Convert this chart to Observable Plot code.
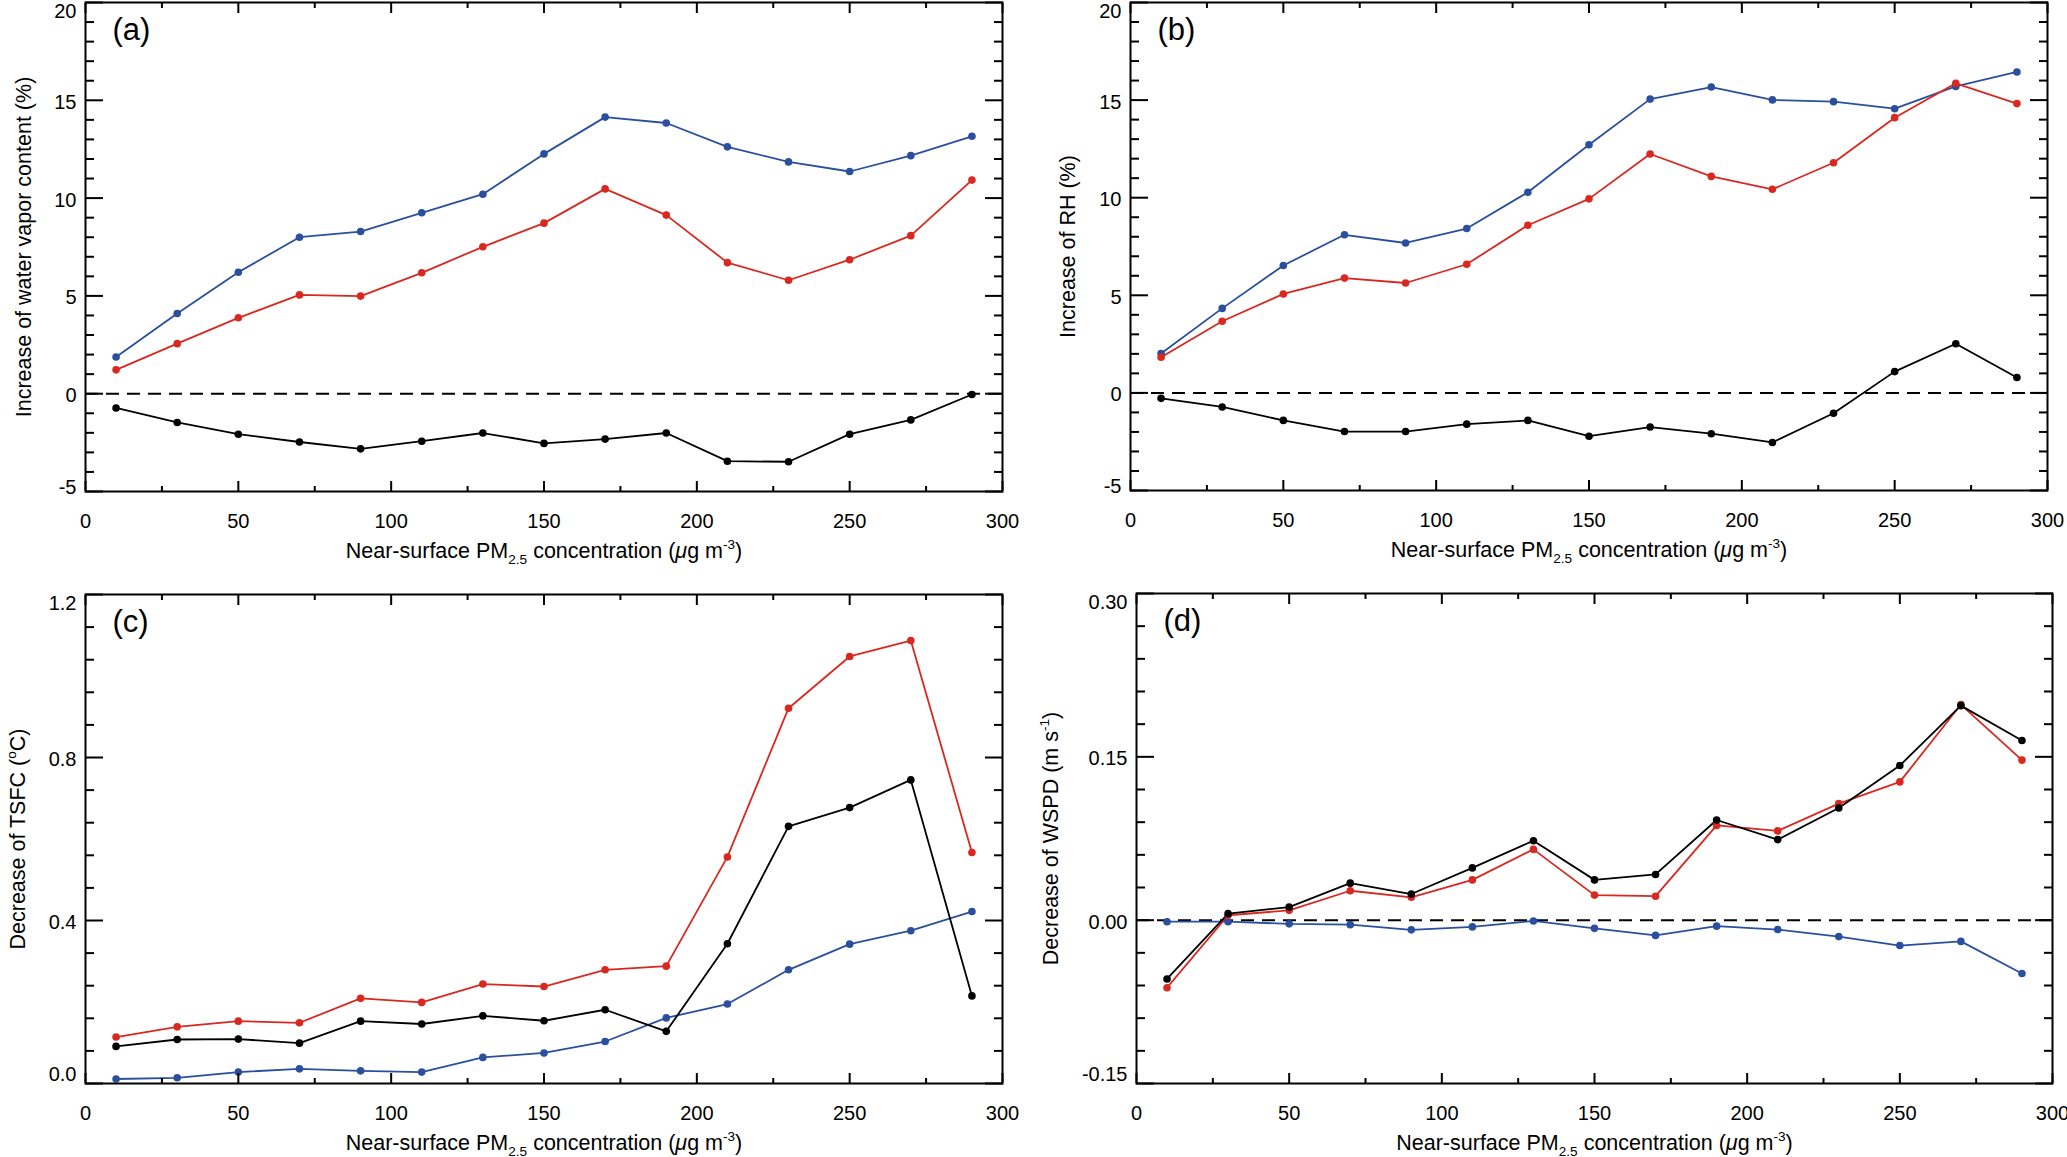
<!DOCTYPE html>
<html><head><meta charset="utf-8">
<script src="https://cdn.jsdelivr.net/npm/d3@7"></script>
<script src="https://cdn.jsdelivr.net/npm/@observablehq/plot@0.6"></script>
<style>
html,body{margin:0;padding:0;background:#fff;}
#wrap{position:relative;width:2067px;height:1157px;overflow:hidden;background:#fff;}
.panel{position:absolute;}
.panel svg{display:block;overflow:visible;}
</style></head><body><div id="wrap"></div>
<script>
// ---- data ----
const pm = [10,30,50,70,90,110,130,150,170,190,210,230,250,270,290];
const xTicks = [0,50,100,150,200,250,300];
const xMinor = [25,75,125,175,225,275];
const seriesNames = ["series 1","series 2","series 3"];
const seriesColors = ["#2b4f9f","#d9281f","#000000"];

const wvBlue  = [1.88,4.10,6.21,8.00,8.29,9.25,10.20,12.26,14.14,13.84,12.62,11.85,11.36,12.17,13.16];
const wvRed   = [1.22,2.56,3.88,5.05,4.99,6.18,7.51,8.72,10.47,9.13,6.70,5.80,6.85,8.08,10.92];
const wvBlack = [-0.73,-1.47,-2.07,-2.47,-2.82,-2.43,-2.01,-2.54,-2.32,-2.01,-3.45,-3.48,-2.07,-1.34,-0.04];

const rhBlue  = [2.02,4.33,6.53,8.10,7.68,8.42,10.28,12.71,15.05,15.67,15.01,14.92,14.56,15.70,16.44];
const rhRed   = [1.83,3.67,5.07,5.88,5.63,6.59,8.59,9.94,12.24,11.09,10.43,11.79,14.10,15.86,14.82];
const rhBlack = [-0.28,-0.72,-1.41,-1.98,-1.98,-1.60,-1.41,-2.22,-1.75,-2.09,-2.54,-1.04,1.09,2.52,0.79];

const tsBlue  = [0.011,0.014,0.028,0.036,0.031,0.028,0.064,0.075,0.103,0.161,0.195,0.279,0.342,0.375,0.422];
const tsRed   = [0.114,0.139,0.153,0.149,0.209,0.199,0.244,0.238,0.279,0.288,0.556,0.921,1.048,1.087,0.567];
const tsBlack = [0.091,0.108,0.109,0.099,0.153,0.146,0.166,0.154,0.181,0.128,0.343,0.631,0.677,0.745,0.215];

const wsBlue  = [-0.0014,-0.0014,-0.0034,-0.0041,-0.0089,-0.0062,-0.0007,-0.0075,-0.014,-0.0055,-0.0086,-0.0151,-0.0233,-0.0195,-0.049];
const wsRed   = [-0.062,0.0045,0.009,0.027,0.021,0.037,0.065,0.023,0.022,0.087,0.082,0.107,0.127,0.198,0.147];
const wsBlack = [-0.054,0.006,0.012,0.034,0.024,0.048,0.073,0.037,0.042,0.092,0.074,0.103,0.142,0.197,0.165];

const yMajorA = [-5,0,5,10,15,20];
const yMinorA = [-4,-3,-2,-1,1,2,3,4,6,7,8,9,11,12,13,14,16,17,18,19];
const yMajorC = [0,0.4,0.8,1.2];
const yMinorC = [0.08,0.16,0.24,0.32,0.48,0.56,0.64,0.72,0.88,0.96,1.04,1.12];
const yMajorD = [-0.15,0,0.15,0.30];
const yMinorD = [-0.12,-0.09,-0.06,-0.03,0.03,0.06,0.09,0.12,0.18,0.21,0.24,0.27];

const xLabel = "Near-surface PM_{2.5} concentration (~{\u03bc}g m^{-3})";

// ---- rendering ----
const FONT = "'Liberation Sans', Arial, Helvetica, sans-serif";
const FS = 20;      // tick labels
const TFS = 21.5;   // axis titles

function richify(svg) {
  svg.querySelectorAll("text").forEach(t => {
    const s = t.textContent;
    if (!/[_^~]\{/.test(s)) return;
    while (t.firstChild) t.removeChild(t.firstChild);
    const fs = parseFloat(t.getAttribute("font-size")) || FS;
    const re = /([_^~])\{([^}]*)\}|([^_^~]+)/g;
    let m, pending = 0;
    const NS = "http://www.w3.org/2000/svg";
    while ((m = re.exec(s))) {
      const ts = document.createElementNS(NS, "tspan");
      if (m[3] !== undefined) {
        ts.textContent = m[3];
        if (pending) { ts.setAttribute("dy", pending); pending = 0; }
      } else if (m[1] === "~") {
        ts.textContent = m[2];
        ts.setAttribute("font-style", "italic");
        if (pending) { ts.setAttribute("dy", pending); pending = 0; }
      } else {
        const shift = m[1] === "_" ? 0.3 * fs : -0.45 * fs;
        ts.textContent = m[2];
        ts.setAttribute("font-size", 0.68 * fs);
        ts.setAttribute("dy", shift + pending);
        pending = -shift;
      }
      t.appendChild(ts);
    }
  });
}

function panel(cfg) {
  const rows = [];
  cfg.series.forEach((vals, i) => vals.forEach((v, j) => rows.push({x: pm[j], y: v, s: seriesNames[i]})));
  const tk = {strokeWidth: 2, fill: "none", label: null};
  const yl = {anchor: "left", tickSize: 0, tickPadding: 9, fontSize: FS, tickFormat: cfg.fmt, label: null};
  const n = cfg.yMajor.length;
  const svg = Plot.plot({
    width: cfg.width, height: cfg.height,
    marginLeft: cfg.ml, marginRight: cfg.mr, marginTop: cfg.mt, marginBottom: cfg.mb,
    style: {fontFamily: FONT, fontSize: FS + "px", background: "#fff", color: "#000"},
    x: {domain: [0, 300], axis: null},
    y: {domain: cfg.yDomain, axis: null},
    color: {domain: seriesNames, range: seriesColors},
    marks: [
      cfg.zero ? Plot.ruleY([0], {stroke: "#000", strokeWidth: 2, strokeDasharray: "13,8"}) : null,
      Plot.line(rows, {x: "x", y: "y", z: "s", stroke: "s", strokeWidth: 1.8}),
      Plot.dot(rows, {x: "x", y: "y", fill: "s", r: 3.8}),
      Plot.axisX(xTicks, {anchor: "bottom", tickSize: -10, ...tk}),
      Plot.axisX(xMinor, {anchor: "bottom", tickSize: -5, ...tk}),
      Plot.axisX(xTicks, {anchor: "top", tickSize: -10, ...tk}),
      Plot.axisX(xMinor, {anchor: "top", tickSize: -5, ...tk}),
      Plot.axisY(cfg.yMajor, {anchor: "left", tickSize: -18, ...tk}),
      Plot.axisY(cfg.yMinor, {anchor: "left", tickSize: -9, ...tk}),
      Plot.axisY(cfg.yMajor, {anchor: "right", tickSize: -18, ...tk}),
      Plot.axisY(cfg.yMinor, {anchor: "right", tickSize: -9, ...tk}),
      Plot.axisX(xTicks, {anchor: "bottom", tickSize: 0, tickPadding: 22, fontSize: FS, tickFormat: d => String(d), label: null}),
      Plot.axisY(cfg.yMajor.slice(1, n - 1), {...yl, dy: 2}),
      Plot.axisY(cfg.yMajor.slice(n - 1), {...yl, dy: 9}),
      Plot.axisY(cfg.yMajor.slice(0, 1), {...yl, dy: cfg.botDy}),
      Plot.frame({stroke: "#000", strokeWidth: 2}),
      Plot.text([cfg.tag], {text: d => d, frameAnchor: "top-left", dx: 27, dy: 15, lineAnchor: "top", textAnchor: "start", fontSize: 31}),
      Plot.text([xLabel], {text: d => d, frameAnchor: "bottom", dy: 66, lineAnchor: "bottom", textAnchor: "middle", fontSize: TFS}),
      Plot.text([cfg.yLabel], {text: d => d, frameAnchor: "left", dx: cfg.ylDx, rotate: -90, textAnchor: "middle", fontSize: TFS})
    ]
  });
  richify(svg);
  const div = document.createElement("div");
  div.className = "panel";
  div.style.left = cfg.left + "px";
  div.style.top = cfg.top + "px";
  div.appendChild(svg);
  document.getElementById("wrap").appendChild(div);
}

panel({left: 0, top: 0, width: 1034, height: 578, ml: 85, mr: 32, mt: 2, mb: 87,
  yDomain: [-5, 20], yMajor: yMajorA, yMinor: yMinorA, fmt: d => String(d), zero: true, botDy: -4,
  series: [wvBlue, wvRed, wvBlack], tag: "(a)", yLabel: "Increase of water vapor content (%)", ylDx: -61});
panel({left: 1034, top: 0, width: 1033, height: 578, ml: 96, mr: 20, mt: 2, mb: 88,
  yDomain: [-5, 20], yMajor: yMajorA, yMinor: yMinorA, fmt: d => String(d), zero: true, botDy: -4,
  series: [rhBlue, rhRed, rhBlack], tag: "(b)", yLabel: "Increase of RH (%)", ylDx: -62});
panel({left: 0, top: 578, width: 1034, height: 579, ml: 85, mr: 32, mt: 16, mb: 74,
  yDomain: [0, 1.2], yMajor: yMajorC, yMinor: yMinorC, fmt: d => d.toFixed(1), zero: false, botDy: -9,
  series: [tsBlue, tsRed, tsBlack], tag: "(c)", yLabel: "Decrease of TSFC (^{o}C)", ylDx: -67});
panel({left: 1034, top: 578, width: 1033, height: 579, ml: 102, mr: 15, mt: 15, mb: 74,
  yDomain: [-0.15, 0.30], yMajor: yMajorD, yMinor: yMinorD, fmt: d => d.toFixed(2), zero: true, botDy: -9,
  series: [wsBlue, wsRed, wsBlack], tag: "(d)", yLabel: "Decrease of WSPD (m s^{-1})", ylDx: -85});
</script></body></html>
